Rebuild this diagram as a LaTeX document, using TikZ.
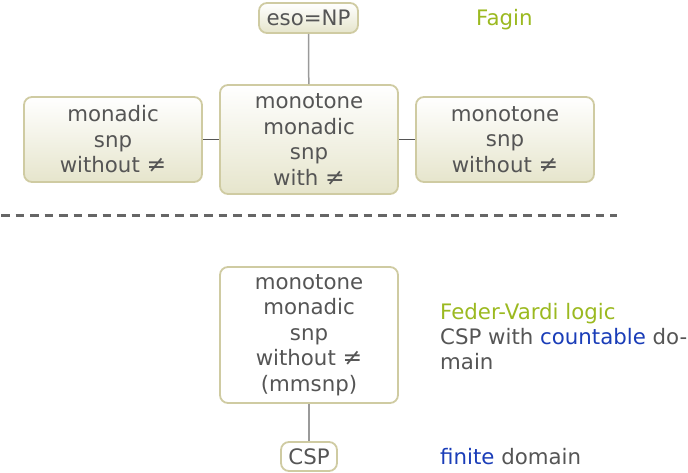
\documentclass[tikz,border=0pt]{standalone}
\usepackage{fontspec}
\setmainfont{DejaVu Sans}
\definecolor{txt}{HTML}{555555}
\definecolor{bord}{HTML}{CFCBA2}
\definecolor{boxbot}{HTML}{E6E5CC}
\definecolor{fgreen}{HTML}{9BB920}
\definecolor{fblue}{HTML}{1A3DB8}
\definecolor{dashc}{HTML}{666666}
\definecolor{vline}{HTML}{9A9A9A}
\newcommand{\myneq}{\scalebox{1.1}{≠}}
\tikzset{
  gbox/.style={draw=bord, line width=1.8pt, rounded corners=8pt, top color=white, bottom color=boxbot, align=center, text=txt, inner sep=0pt, font=\fontsize{21.3}{25.5}\selectfont},
  wbox/.style={draw=bord, line width=1.8pt, rounded corners=8pt, fill=white, align=center, text=txt, inner sep=0pt, font=\fontsize{21.3}{25.5}\selectfont},
  lbl/.style={anchor=west, align=left, text=txt, inner sep=0pt, font=\fontsize{21.3}{25}\selectfont},
  vconn/.style={draw=vline, line width=1.5pt},
  hconn/.style={draw=txt, line width=1pt},
}
\begin{document}
\begin{tikzpicture}[x=1pt,y=-1pt]
\useasboundingbox (0,0) rectangle (688,473);
\node[gbox, minimum width=99pt, minimum height=30pt] (eso) at (308.5,18) {eso=NP};
\node[lbl, text=fgreen] (fagin) at (476,19.5) {Fagin};
\node[gbox, minimum width=178pt, minimum height=85pt] (left) at (113,139.5) {monadic\\snp\\without \myneq};
\node[gbox, minimum width=178pt, minimum height=109pt] (mid) at (309,139.5) {monotone\\monadic\\snp\\with \myneq};
\node[gbox, minimum width=178pt, minimum height=85pt] (right) at (505,139.5) {monotone\\snp\\without \myneq};
\draw[vconn] (eso) -- (mid);
\draw[hconn] (left) -- (mid);
\draw[hconn] (mid) -- (right);
\coordinate (d1) at (1,216);
\coordinate (d2) at (617,216);
\draw[dashc, line width=3pt, dash pattern=on 8.5pt off 6pt] (d1) -- (d2);
\node[wbox, minimum width=178pt, minimum height=136pt] (mm) at (309,335) {monotone\\monadic\\snp\\without \myneq\\(mmsnp)};
\node[wbox, minimum width=56pt, minimum height=29pt] (csp) at (309,456.5) {CSP};
\draw[vconn] (mm) -- (csp);
\node[lbl] (fv) at (440,337) {\textcolor{fgreen}{Feder-Vardi logic}\\CSP with \textcolor{fblue}{countable} do-\\main};
\node[lbl] (fin) at (440,457) {\textcolor{fblue}{finite} domain};
\end{tikzpicture}
\end{document}
